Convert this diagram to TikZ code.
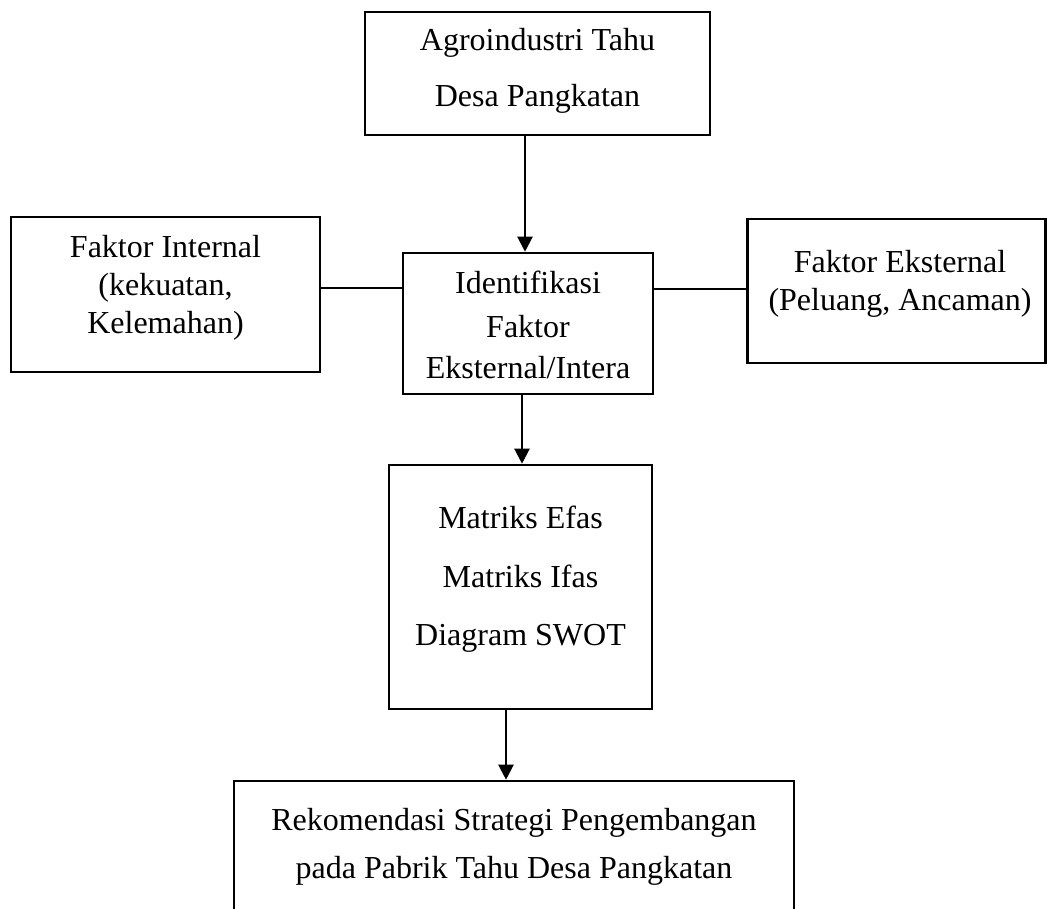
\documentclass[tikz,border=0pt]{standalone}
\usepackage{fontspec}
\setmainfont{Liberation Serif}
\usetikzlibrary{arrows.meta}
\begin{document}
\begin{tikzpicture}[x=1pt,y=-1pt,
  box/.style={draw, line width=2.6pt, inner sep=0pt},
  txt/.style={anchor=base, inner sep=0pt, font=\fontsize{32}{38}\selectfont},
  arr/.style={line width=2.2pt, -{Triangle[width=15pt,length=15pt]}},
  link/.style={line width=1.1pt}]
\useasboundingbox (0,0) rectangle (1047,908);
\clip (0,0) rectangle (1047,908);
% boxes
\node[box, minimum width=345pt, minimum height=123pt] (top) at (537.5,73.5) {};
\node[box, minimum width=309pt, minimum height=155pt] (left) at (165.5,294.5) {};
\node[box, minimum width=250pt, minimum height=141pt] (mid) at (528,323.5) {};
\node[box, minimum width=298pt, minimum height=144pt] (right) at (896.5,291) {};
\node[box, minimum width=263pt, minimum height=244pt] (mat) at (520.5,587) {};
\node[box, minimum width=560pt, minimum height=154pt] (bot) at (514,858) {};
% texts
\node[txt] (top1) at (537.5,50) {Agroindustri Tahu};
\node[txt] (top2) at (537.5,106) {Desa Pangkatan};
\node[txt] (left1) at (165.5,257) {Faktor Internal};
\node[txt] (left2) at (165.5,295) {(kekuatan,};
\node[txt] (left3) at (165.5,333) {Kelemahan)};
\node[txt] (mid1) at (528,293) {Identifikasi};
\node[txt] (mid2) at (528,337) {Faktor};
\node[txt] (mid3) at (528,378) {Eksternal/Intera};
\node[txt] (right1) at (900,272) {Faktor Eksternal};
\node[txt] (right2) at (900,310) {(Peluang, Ancaman)};
\node[txt] (mat1) at (520.5,528) {Matriks Efas};
\node[txt] (mat2) at (520.5,587) {Matriks Ifas};
\node[txt] (mat3) at (520.5,645) {Diagram SWOT};
\node[txt] (bot1) at (514,830) {Rekomendasi Strategi Pengembangan};
\node[txt] (bot2) at (514,878) {pada Pabrik Tahu Desa Pangkatan};
% connectors
\draw[arr] ([xshift=-12.5pt]top.south) -- ([xshift=-3pt]mid.north);
\draw[arr] ([xshift=-6pt]mid.south) -- ([xshift=1.5pt]mat.north);
\draw[arr] ([xshift=-14.5pt]mat.south) -- ([xshift=-8pt]bot.north);
\draw[link] ([yshift=6.5pt]left.east) -- ([yshift=35.5pt]mid.west);
\draw[link] ([yshift=34.5pt]mid.east) -- ([yshift=2pt]right.west);
\end{tikzpicture}
\end{document}
